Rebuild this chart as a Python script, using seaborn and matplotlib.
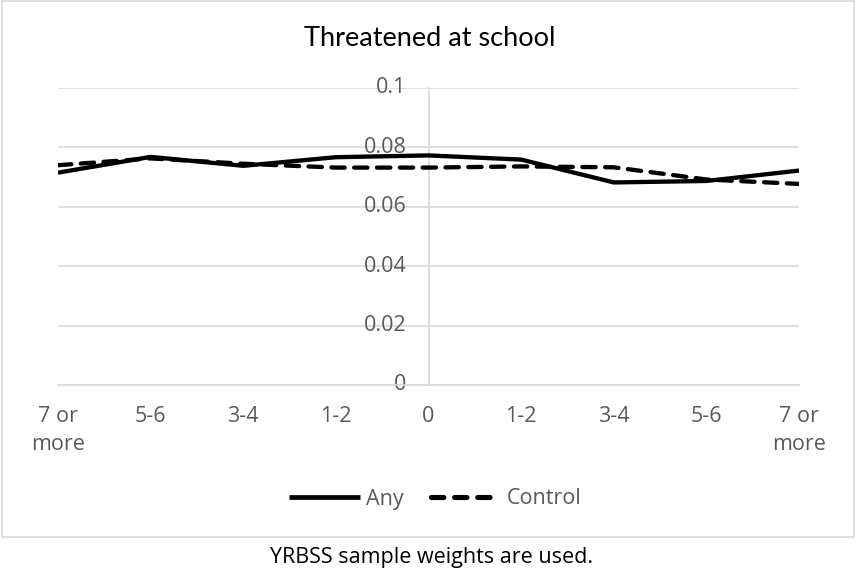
import matplotlib
matplotlib.use("Agg")
import matplotlib.pyplot as plt
import seaborn as sns
import pandas as pd
from matplotlib.patches import Rectangle
from matplotlib.lines import Line2D

# Share of students threatened at school, by distance (category) from zero
categories = ["7 or\nmore", "5-6", "3-4", "1-2", "0", "1-2", "3-4", "5-6", "7 or\nmore"]
any_values = [0.0715, 0.0768, 0.0738, 0.0767, 0.0773, 0.0759, 0.0682, 0.0687, 0.0722]
control_values = [0.0740, 0.0763, 0.0745, 0.0732, 0.0732, 0.0736, 0.0733, 0.0692, 0.0677]
y_ticks = [0, 0.02, 0.04, 0.06, 0.08, 0.1]
y_tick_labels = ["0", "0.02", "0.04", "0.06", "0.08", "0.1"]
series_names = ["Any", "Control"]

df = pd.DataFrame({
    "pos": list(range(len(categories))) * 2,
    "value": any_values + control_values,
    "series": [series_names[0]] * len(categories) + [series_names[1]] * len(categories),
})

sns.set_theme(style="white")
plt.rcParams["font.family"] = ["Open Sans", "DejaVu Sans"]

W, H = 856, 571
fig = plt.figure(figsize=(W / 100, H / 100), dpi=100)
ax = fig.add_axes([58 / W, 1 - 385 / H, (799 - 58) / W, (385 - 88) / H])

grid_col = "#d9d9d9"
text_col = "#595959"
lw = 3.1
dash = (3.1, 2.2)

sns.lineplot(
    data=df, x="pos", y="value", hue="series", style="series",
    palette=["black", "black"], dashes=["", dash],
    linewidth=lw, ax=ax, legend=False, sort=False,
)
for line in ax.lines:
    line.set_dash_capstyle("round")
    line.set_solid_capstyle("butt")

ax.set_xlim(0, len(categories) - 1)
ax.set_ylim(0, 0.1)
ax.set_yticks(y_ticks)
ax.set_yticklabels(y_tick_labels)
ax.set_xticks(range(len(categories)))
ax.set_xticklabels(categories, linespacing=1.45, va="top")
ax.set_xlabel("")
ax.set_ylabel("")

# Horizontal gridlines, y axis crossing at the centre category
ax.yaxis.grid(True, color=grid_col, linewidth=1.2)
ax.xaxis.grid(False)
ax.set_axisbelow(True)
for side in ["top", "right"]:
    ax.spines[side].set_visible(False)
ax.spines["left"].set_position(("data", 4))
ax.spines["left"].set_color(grid_col)
ax.spines["left"].set_linewidth(1.2)
ax.spines["bottom"].set_color(grid_col)
ax.spines["bottom"].set_linewidth(1.2)
ax.spines["left"].set_zorder(0.5)

ax.tick_params(axis="y", length=0, pad=16, labelsize=15.5, labelcolor=text_col)
ax.tick_params(axis="x", direction="inout", length=10, width=1.2, color=grid_col,
               pad=10, labelsize=15.5, labelcolor=text_col)
for lab in ax.get_yticklabels():
    lab.set_verticalalignment("center")

fig.text(430 / W, 1 - 39 / H, "Threatened at school", ha="center", va="center",
         fontsize=19.5, color="black", family=["Lato", "DejaVu Sans"])

# Legend entries below the plot area
legend_kw = dict(loc="center left", ncol=1, frameon=False, fontsize=15.5,
                 labelcolor=text_col, borderpad=0, borderaxespad=0)
fig.legend([Line2D([], [], color="black", linewidth=lw + 0.3, solid_capstyle="butt")],
           [series_names[0]], bbox_to_anchor=(289 / W, 1 - 499 / H),
           handlelength=3.3, handletextpad=0.3, **legend_kw)
fig.legend([Line2D([], [], color="black", linewidth=lw + 0.6, dashes=(2.4, 2.1),
                   dash_capstyle="round")],
           [series_names[1]], bbox_to_anchor=(431 / W, 1 - 499 / H),
           handlelength=2.75, handletextpad=0.75, **legend_kw)

# Chart frame
fig.patches.append(Rectangle((2 / W, 1 - 537 / H), (854 - 2) / W, (537 - 1) / H,
                             transform=fig.transFigure, fill=False,
                             edgecolor=grid_col, linewidth=1.2))

fig.text(432 / W, 1 - 557 / H, "YRBSS sample weights are used.", ha="center",
         va="center", fontsize=15.5, color="black")

fig.savefig("out.png", dpi=100, facecolor="white")
